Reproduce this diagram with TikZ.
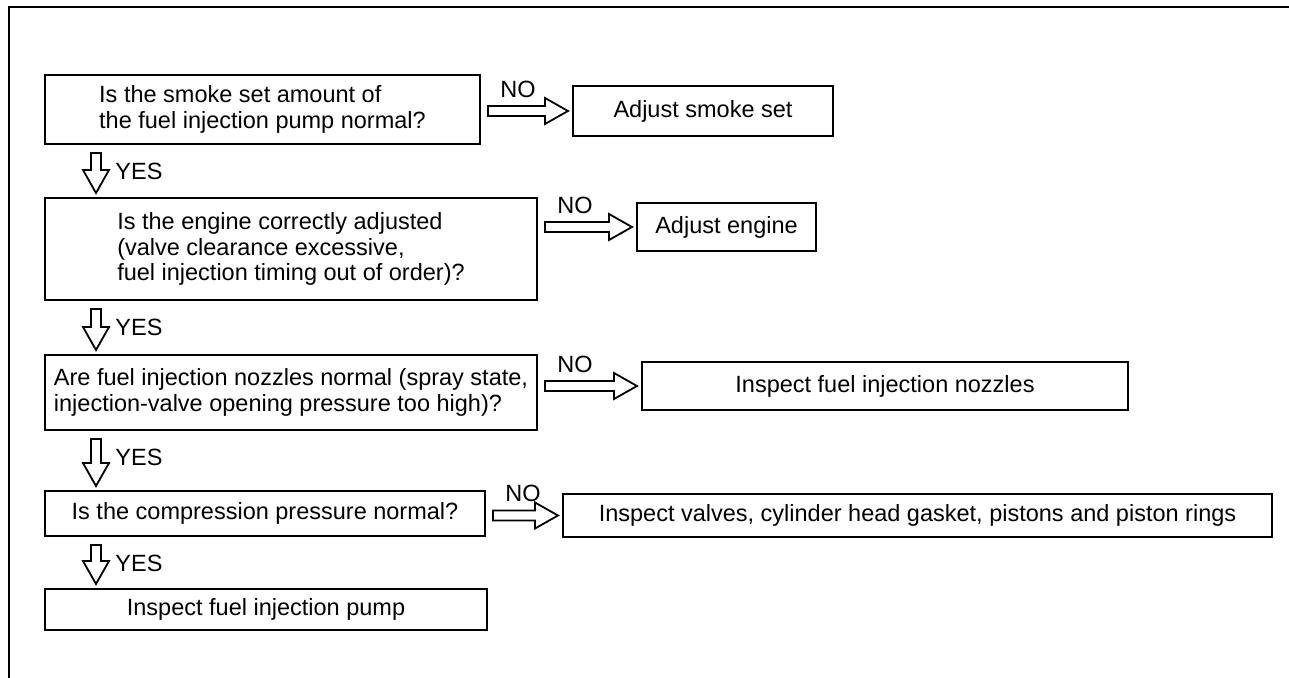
\documentclass[tikz,border=0pt]{standalone}
\usepackage{fontspec}
\setmainfont{Liberation Sans}
\usetikzlibrary{positioning,calc}

% hollow block arrows between two points
\newcommand{\noarrow}[2]{\draw[line width=0.9pt] let \p1=(#1), \p2=(#2) in
  (\x1,\y2+2.5pt) -- (\x2-11.5pt,\y2+2.5pt) -- (\x2-11.5pt,\y2+6.5pt) -- (\x2,\y2)
  -- (\x2-11.5pt,\y2-6.5pt) -- (\x2-11.5pt,\y2-2.5pt) -- (\x1,\y2-2.5pt) -- cycle;}
\newcommand{\yesarrow}[2]{\draw[line width=0.9pt] let \p1=(#1), \p2=(#2) in
  (\x1-2.5pt,\y1) -- (\x1-2.5pt,\y2+11.5pt) -- (\x1-6.5pt,\y2+11.5pt) -- (\x1,\y2)
  -- (\x1+6.5pt,\y2+11.5pt) -- (\x1+2.5pt,\y2+11.5pt) -- (\x1+2.5pt,\y1) -- cycle;}

\begin{document}
\begin{tikzpicture}[x=0.5pt,y=-0.5pt,
  font=\fontsize{11.75}{12.75}\selectfont,
  qbox/.style={draw,line width=1pt,align=left,inner sep=1pt},
  abox/.style={draw,line width=1pt,inner sep=1pt},
  lbl/.style={inner sep=0pt}]
  \useasboundingbox (0,0) rectangle (1289,678);
  \draw[line width=1.4pt] (9,678) -- (9,7) -- (1289,7);

  \node[qbox,minimum width=217.5pt,minimum height=34.5pt] (q1) at (262.5,109.5)
    {Is the smoke set amount of\\the fuel injection pump normal?};
  \node[abox,minimum width=130pt,minimum height=25pt] (a1) at (703,111) {Adjust smoke set};
  \node[qbox,minimum width=246pt,minimum height=51pt] (q2) at (291,249)
    {Is the engine correctly adjusted\\(valve clearance excessive,\\fuel injection timing out of order)?};
  \node[abox,minimum width=89.5pt,minimum height=24pt] (a2) at (726.5,227) {Adjust engine};
  \node[qbox,minimum width=246pt,minimum height=37.5pt] (q3) at (291,392.5)
    {Are fuel injection nozzles normal (spray state,\\injection-valve opening pressure too high)?};
  \node[abox,minimum width=243pt,minimum height=24pt] (a3) at (885,386) {Inspect fuel injection nozzles};
  \node[qbox,minimum width=220pt,minimum height=22.5pt] (q4) at (265,513.5)
    {Is the compression pressure normal?};
  \node[abox,minimum width=354.5pt,minimum height=21.5pt] (a4) at (917.5,515.5)
    {Inspect valves, cylinder head gasket, pistons and piston rings};
  \node[abox,minimum width=221pt,minimum height=20.5pt] (a5) at (266,609.5) {Inspect fuel injection pump};

  \foreach \q/\a in {q1/a1,q2/a2,q3/a3,q4/a4}{
    \noarrow{$(\q.east)+(3.5pt,0)$}{$(\a.west)+(-2pt,0)$}
    \node[lbl] (no\q) at ($(\q.east |- \a.west)+(18.5pt,11pt)$) {NO};
  }
  \foreach \q/\b in {q1/q2,q2/q3,q3/q4,q4/a5}{
    \yesarrow{$(\q.south west)+(26pt,-4pt)$}{$(\b.north west)+(26pt,2pt)$}
    \node[lbl,anchor=west] (yes\q) at ($(\q.south west)+(35.5pt,-13pt)$) {YES};
  }
\end{tikzpicture}
\end{document}
